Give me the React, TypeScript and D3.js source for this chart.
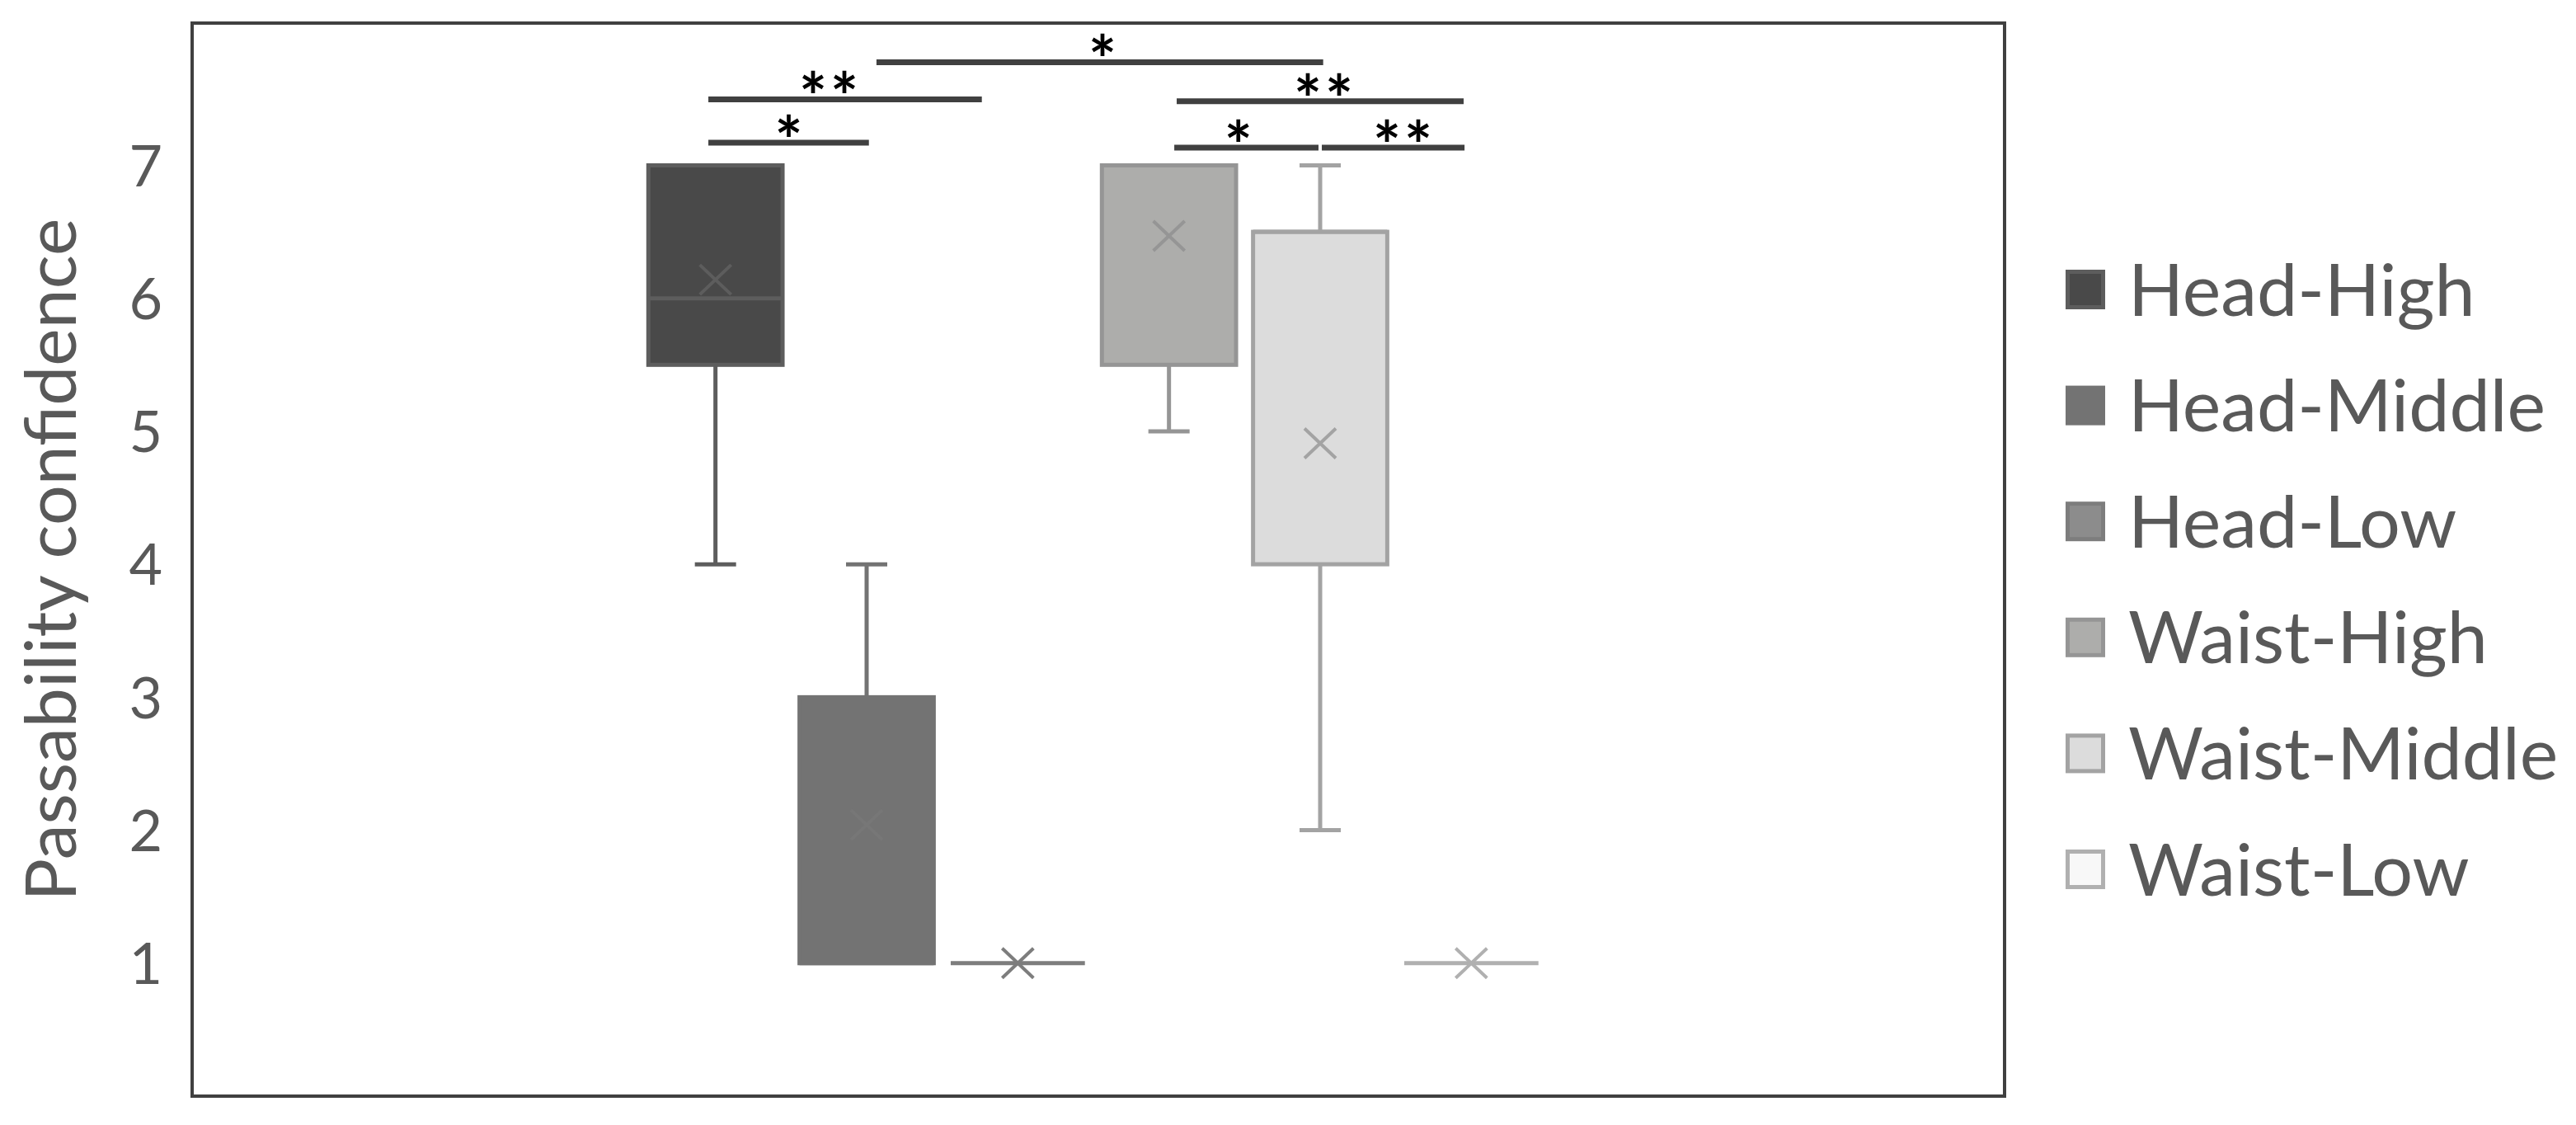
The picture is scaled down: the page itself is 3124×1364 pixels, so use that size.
import React from 'react';
import * as d3 from 'd3';

// ---- data ----
const series = ['Head-High', 'Head-Middle', 'Head-Low', 'Waist-High', 'Waist-Middle', 'Waist-Low'];
const q1Values = [5.5, 1, 1, 5.5, 4, 1];
const medianValues = [6, 1, 1, 7, 6.5, 1];
const q3Values = [7, 3, 1, 7, 6.5, 1];
const whiskerLowValues = [4, 1, 1, 5, 2, 1];
const whiskerHighValues = [7, 4, 1, 7, 7, 1];
const meanValues = [6.14, 2.04, 1, 6.47, 4.91, 1];
const yTicks = [1, 2, 3, 4, 5, 6, 7];

const fillColors = ['#494949', '#737373', '#8c8c8c', '#adadab', '#dcdcdc', '#f8f8f8'];
const strokeColors = ['#5d5d5d', '#737373', '#7d7d7d', '#959595', '#a3a3a3', '#b0b0b0'];
const meanColors = ['#5d5d5d', '#777777', '#7d7d7d', '#959595', '#a3a3a3', '#b0b0b0'];

// significance comparisons (start/end/label in series-index units, level in y units)
const compStart = [-0.047, -0.047, 1.065, 3.051, 3.035, 4.011];
const compEnd = [1.015, 1.762, 4.02, 4.949, 3.989, 4.955];
const compLabelPos = [0.484, 0.749, 2.56, 4.022, 3.459, 4.545];
const compLevel = [7.171, 7.497, 7.776, 7.482, 7.134, 7.134];
const compLabel = ['*', '**', '*', '**', '*', '**'];

const yTitle = 'Passability confidence';

const W = 3124;
const H = 1364;
const frame = { left: 233, right: 2431, top: 28, bottom: 1329 };
const FONT = 'Lato, "Open Sans", sans-serif';

export default function App() {
  const y = d3.scaleLinear().domain([0, 8.07]).range([frame.bottom, frame.top]);
  const x = d3
    .scaleBand<string>()
    .domain(series)
    .range([776, 1876])
    .paddingInner(0.085)
    .paddingOuter(0.0425);
  const bw = x.bandwidth();
  const cx = (s: string) => (x(s) as number) + bw / 2;
  const xi = d3
    .scaleLinear()
    .domain([0, series.length - 1])
    .range([cx(series[0]), cx(series[series.length - 1])]);
  const sw = 5;
  const capHalf = 25;
  const mx = 19;
  const my = 18;

  return (
    <svg
      width={W}
      height={H}
      viewBox={`0 0 ${W} ${H}`}
      style={{ position: 'absolute', left: 0, top: 0, display: 'block', background: '#fff' }}
    >
      <rect x={0} y={0} width={W} height={H} fill="#fff" />
      {/* frame */}
      <rect
        x={frame.left}
        y={frame.top}
        width={frame.right - frame.left}
        height={frame.bottom - frame.top}
        fill="none"
        stroke="#404040"
        strokeWidth={4}
      />
      {/* y ticks */}
      {yTicks.map((t) => (
        <text
          key={t}
          x={197}
          y={y(t)}
          dy="0.36em"
          textAnchor="end"
          fontFamily={FONT}
          fontSize={70}
          fill="#595959"
        >
          {t}
        </text>
      ))}
      {/* y title */}
      <text
        transform={`translate(92, ${(frame.top + frame.bottom) / 2}) rotate(-90)`}
        textAnchor="middle"
        fontFamily={FONT}
        fontSize={86}
        fill="#595959"
      >
        {yTitle}
      </text>

      {/* boxes */}
      {series.map((s, i) => {
        const x0 = x(s) as number;
        const c = cx(s);
        const st = strokeColors[i];
        const top = y(q3Values[i]);
        const bot = y(q1Values[i]);
        return (
          <g key={s}>
            {whiskerHighValues[i] > q3Values[i] && (
              <g stroke={st} strokeWidth={sw}>
                <line x1={c} x2={c} y1={y(whiskerHighValues[i])} y2={top} />
                <line x1={c - capHalf} x2={c + capHalf} y1={y(whiskerHighValues[i])} y2={y(whiskerHighValues[i])} />
              </g>
            )}
            {whiskerLowValues[i] < q1Values[i] && (
              <g stroke={st} strokeWidth={sw}>
                <line x1={c} x2={c} y1={bot} y2={y(whiskerLowValues[i])} />
                <line x1={c - capHalf} x2={c + capHalf} y1={y(whiskerLowValues[i])} y2={y(whiskerLowValues[i])} />
              </g>
            )}
            <rect
              x={x0 + sw / 2}
              y={top}
              width={bw - sw}
              height={Math.max(0, bot - top)}
              fill={fillColors[i]}
              stroke={st}
              strokeWidth={sw}
            />
            <line
              x1={x0 + sw / 2}
              x2={x0 + bw - sw / 2}
              y1={y(medianValues[i])}
              y2={y(medianValues[i])}
              stroke={st}
              strokeWidth={sw}
            />
            <g stroke={meanColors[i]} strokeWidth={4}>
              <line x1={c - mx} x2={c + mx} y1={y(meanValues[i]) - my} y2={y(meanValues[i]) + my} />
              <line x1={c - mx} x2={c + mx} y1={y(meanValues[i]) + my} y2={y(meanValues[i]) - my} />
            </g>
          </g>
        );
      })}

      {/* significance bars */}
      {compLabel.map((lab, i) => {
        const yy = y(compLevel[i]);
        const multi = lab.length > 1;
        return (
          <g key={i}>
            <line
              x1={xi(compStart[i])}
              x2={xi(compEnd[i])}
              y1={yy}
              y2={yy}
              stroke="#404040"
              strokeWidth={7}
            />
            <text
              x={xi(compLabelPos[i]) + (multi ? 2 : 0)}
              y={yy + 27}
              textAnchor="middle"
              fontFamily={FONT}
              fontSize={80}
              fontWeight={700}
              letterSpacing={multi ? 4 : 0}
              fill="#000"
            >
              {lab}
            </text>
          </g>
        );
      })}

      {/* legend */}
      {series.map((s, i) => {
        const cyL = 351 + i * 140.6;
        return (
          <g key={s}>
            <rect
              x={2505 + 2.5}
              y={cyL - 24 + 2.5}
              width={48 - 5}
              height={48 - 5}
              fill={fillColors[i]}
              stroke={strokeColors[i]}
              strokeWidth={5}
            />
            <text x={2581} y={cyL} dy="0.36em" fontFamily={FONT} fontSize={88} fill="#595959">
              {s}
            </text>
          </g>
        );
      })}
    </svg>
  );
}
